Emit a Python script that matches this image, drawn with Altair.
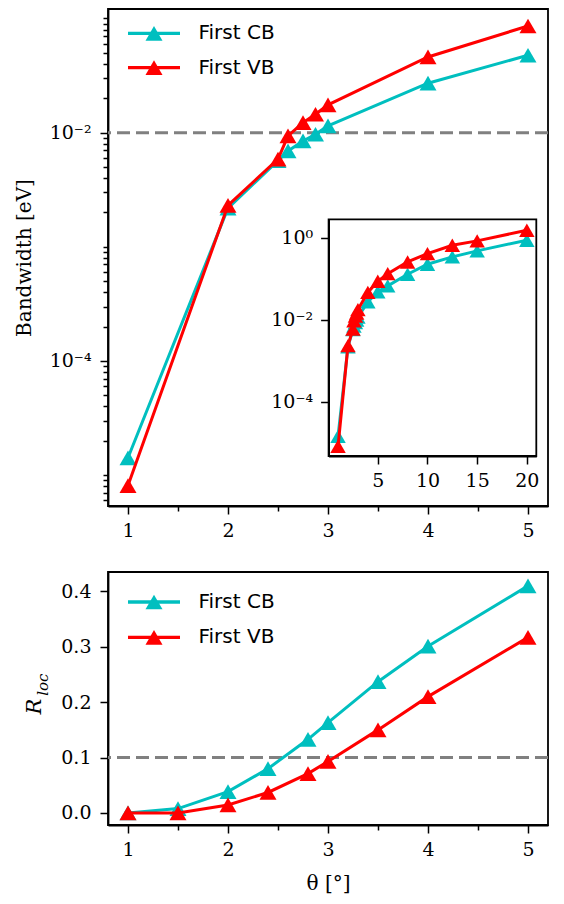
import altair as alt
import pandas as pd

# ---------------- data ----------------
SERIES = ["First CB", "First VB"]
COLORS = ["#00BFBF", "#FF0000"]

# bandwidth vs twist angle (main panel shows theta <= 5, inset shows all)
theta_bw = [1, 2, 2.5, 2.6, 2.75, 2.875, 3, 4, 5, 6, 8, 10, 12.5, 15, 20]
bw_cb = [1.42e-5, 2.18e-3, 5.69e-3, 6.92e-3, 8.45e-3, 9.68e-3, 1.146e-2,
         2.71e-2, 4.76e-2, 0.0664, 0.128, 0.224, 0.339, 0.474, 0.865]
bw_vb = [8.1e-6, 2.31e-3, 5.85e-3, 9.35e-3, 1.225e-2, 1.449e-2, 1.75e-2,
         4.6e-2, 8.59e-2, 0.132, 0.255, 0.407, 0.653, 0.832, 1.51]
main_theta_max = 5

# localisation ratio
theta_r = [1, 1.5, 2, 2.4, 2.8, 3, 3.5, 4, 5]
r_cb = [0.0, 0.008, 0.0385, 0.080, 0.133, 0.163, 0.237, 0.301, 0.410]
r_vb = [0.0, 0.0, 0.0145, 0.037, 0.071, 0.093, 0.150, 0.210, 0.317]

bw_threshold = 0.01
r_threshold = 0.1

x_major = [1, 2, 3, 4, 5]
x_minor = [1.5, 2.5, 3.5, 4.5]
bw_major = [1e-4, 1e-2]
inset_x_ticks = [5, 10, 15, 20]
inset_y_ticks = [1e-4, 1e-2, 1]
r_ticks = [0.0, 0.1, 0.2, 0.3, 0.4]

# ---------------- tables ----------------
bw_df = pd.DataFrame({
    "theta": theta_bw * 2,
    "value": bw_cb + bw_vb,
    "series": [SERIES[0]] * len(theta_bw) + [SERIES[1]] * len(theta_bw),
})
main_df = bw_df[bw_df["theta"] <= main_theta_max]
r_df = pd.DataFrame({
    "theta": theta_r * 2,
    "value": r_cb + r_vb,
    "series": [SERIES[0]] * len(theta_r) + [SERIES[1]] * len(theta_r),
})

# ---------------- scales ----------------
MAIN_Y_DOMAIN = [5.37e-6, 0.121]
INSET_X_DOMAIN = [0.05, 20.95]
INSET_Y_DOMAIN = [4.68e-6, 2.80]


def XM():
    return alt.Scale(domain=[0.8, 5.2], nice=False, zero=False)


def YM():
    return alt.Scale(type="log", domain=MAIN_Y_DOMAIN, nice=False)


def XI():
    return alt.Scale(domain=INSET_X_DOMAIN, nice=False, zero=False, range=[220.6, 428.3])


def YI():
    return alt.Scale(type="log", domain=INSET_Y_DOMAIN, nice=False, range=[447.0, 210.3])


YB = alt.Scale(domain=[-0.0217, 0.435], nice=False, zero=False)

minor_bw = []
for e in range(-6, 0):
    for k in range(1, 10):
        v = k * 10.0 ** e
        if MAIN_Y_DOMAIN[0] <= v <= MAIN_Y_DOMAIN[1] and abs(v - 1e-4) > 1e-12 and abs(v - 1e-2) > 1e-9:
            minor_bw.append(v)

POW_EXPR = ("round(log(datum.value)/LN10) == -2 ? '10⁻²' : "
            "(round(log(datum.value)/LN10) == -4 ? '10⁻⁴' : '10⁰')")

LW = 3
MSIZE = 289
ISIZE = 240


def ax_minor_x():
    return alt.Axis(orient="bottom", values=x_minor, labels=False, tickSize=5,
                    domain=False, title=None, grid=False)


def ax_major_x(title=None):
    return alt.Axis(orient="bottom", values=x_major, format="d", tickSize=8,
                    labelPadding=7, labelFlush=False, title=title, grid=False,
                    titlePadding=14)


def legend_layers(y_positions):
    out = []
    for name, color, yy in zip(SERIES, COLORS, y_positions):
        base = alt.Chart(pd.DataFrame({"label": [name]}))
        out.append(base.mark_rule(color=color, strokeWidth=3.3).encode(
            x=alt.value(20), x2=alt.value(72), y=alt.value(yy)))
        out.append(base.mark_point(shape="triangle-up", filled=True, size=MSIZE,
                                   color=color, opacity=1).encode(
            x=alt.value(46), y=alt.value(yy)))
        out.append(base.mark_text(align="left", baseline="middle", font="DejaVu Sans",
                                  fontSize=20, color="black").encode(
            x=alt.value(90.5), y=alt.value(yy), text="label:N"))
    return out


# ---------------- top panel: main ----------------
cb_main = main_df[main_df["series"] == SERIES[0]]
vb_main = main_df[main_df["series"] == SERIES[1]]

rule_top = alt.Chart(pd.DataFrame({"v": [bw_threshold]})).mark_rule(
    color="#808080", strokeWidth=3, strokeDash=[13, 6]).encode(
    y=alt.Y("v:Q", scale=YM(), axis=None))

line_cb = alt.Chart(cb_main).mark_line(color=COLORS[0], strokeWidth=LW).encode(
    x=alt.X("theta:Q", scale=XM(), axis=ax_minor_x()),
    y=alt.Y("value:Q", scale=YM(), axis=alt.Axis(
        orient="left", values=minor_bw, labels=False, tickSize=5, domain=False,
        title=None, grid=False)))
pts_cb = alt.Chart(cb_main).mark_point(shape="triangle-up", filled=True, size=MSIZE,
                                       color=COLORS[0], opacity=1).encode(
    x=alt.X("theta:Q", scale=XM(), axis=ax_major_x()),
    y=alt.Y("value:Q", scale=YM(), axis=alt.Axis(
        orient="left", values=bw_major, labelExpr=POW_EXPR, tickSize=8,
        labelPadding=9, title="Bandwidth [eV]", titlePadding=14,
        minExtent=60, maxExtent=60, grid=False)))
line_vb = alt.Chart(vb_main).mark_line(color=COLORS[1], strokeWidth=LW).encode(
    x=alt.X("theta:Q", scale=XM(), axis=None),
    y=alt.Y("value:Q", scale=YM(), axis=None))
pts_vb = alt.Chart(vb_main).mark_point(shape="triangle-up", filled=True, size=MSIZE,
                                       color=COLORS[1], opacity=1).encode(
    x=alt.X("theta:Q", scale=XM(), axis=None),
    y=alt.Y("value:Q", scale=YM(), axis=None))

# ---------------- top panel: inset ----------------
cb_all = bw_df[bw_df["series"] == SERIES[0]]
vb_all = bw_df[bw_df["series"] == SERIES[1]]

frame = alt.Chart(pd.DataFrame({
    "x0": [INSET_X_DOMAIN[0]], "x1": [INSET_X_DOMAIN[1]],
    "y0": [INSET_Y_DOMAIN[0]], "y1": [INSET_Y_DOMAIN[1]]})).mark_rect(
    fill="white", stroke="black", strokeWidth=1.8).encode(
    x=alt.X("x0:Q", scale=XI(), axis=alt.Axis(
        orient="bottom", offset=-50, values=inset_x_ticks, format="d", tickSize=8,
        labelPadding=7, labelFlush=False, title=None, grid=False, zindex=1)),
    x2="x1:Q",
    y=alt.Y("y0:Q", scale=YI(), axis=alt.Axis(
        orient="left", offset=-220.6, values=inset_y_ticks, labelExpr=POW_EXPR,
        tickSize=8, labelPadding=8, title=None, grid=False, zindex=1)),
    y2="y1:Q")

i_line_cb = alt.Chart(cb_all).mark_line(color=COLORS[0], strokeWidth=LW).encode(
    x=alt.X("theta:Q", scale=XI(), axis=None), y=alt.Y("value:Q", scale=YI(), axis=None))
i_pts_cb = alt.Chart(cb_all).mark_point(shape="triangle-up", filled=True, size=ISIZE,
                                        color=COLORS[0], opacity=1).encode(
    x=alt.X("theta:Q", scale=XI(), axis=None), y=alt.Y("value:Q", scale=YI(), axis=None))
i_line_vb = alt.Chart(vb_all).mark_line(color=COLORS[1], strokeWidth=LW).encode(
    x=alt.X("theta:Q", scale=XI(), axis=None), y=alt.Y("value:Q", scale=YI(), axis=None))
i_pts_vb = alt.Chart(vb_all).mark_point(shape="triangle-up", filled=True, size=ISIZE,
                                        color=COLORS[1], opacity=1).encode(
    x=alt.X("theta:Q", scale=XI(), axis=None), y=alt.Y("value:Q", scale=YI(), axis=None))

# flat layer: every child has its own (identically specified) scales
top = alt.layer(
    rule_top, line_cb, pts_cb, line_vb, pts_vb, *legend_layers([24.3, 58.7]),
    frame, i_line_cb, i_pts_cb, i_line_vb, i_pts_vb,
).resolve_scale(x="independent", y="independent").properties(width=440, height=497)

# ---------------- bottom panel ----------------
cb_r = r_df[r_df["series"] == SERIES[0]]
vb_r = r_df[r_df["series"] == SERIES[1]]

rule_b = alt.Chart(pd.DataFrame({"v": [r_threshold]})).mark_rule(
    color="#808080", strokeWidth=3, strokeDash=[13, 6]).encode(
    y=alt.Y("v:Q", scale=YB, axis=None))
b_line_cb = alt.Chart(cb_r).mark_line(color=COLORS[0], strokeWidth=LW).encode(
    x=alt.X("theta:Q", scale=XM(), axis=ax_minor_x()),
    y=alt.Y("value:Q", scale=YB, axis=None))
b_pts_cb = alt.Chart(cb_r).mark_point(shape="triangle-up", filled=True, size=MSIZE,
                                      color=COLORS[0], opacity=1).encode(
    x=alt.X("theta:Q", scale=XM(), axis=ax_major_x("θ [°]")),
    y=alt.Y("value:Q", scale=YB, axis=alt.Axis(
        orient="left", values=r_ticks, format=".1f", tickSize=8, labelPadding=9,
        title=None, grid=False)))
b_line_vb = alt.Chart(vb_r).mark_line(color=COLORS[1], strokeWidth=LW).encode(
    x=alt.X("theta:Q", scale=XM(), axis=None), y=alt.Y("value:Q", scale=YB, axis=None))
b_pts_vb = alt.Chart(vb_r).mark_point(shape="triangle-up", filled=True, size=MSIZE,
                                      color=COLORS[1], opacity=1).encode(
    x=alt.X("theta:Q", scale=XM(), axis=None), y=alt.Y("value:Q", scale=YB, axis=None))

r_label = alt.Chart(pd.DataFrame({"t": ["R"]})).mark_text(
    font="DejaVu Serif", fontStyle="italic", fontSize=21, angle=270,
    align="center", baseline="middle", color="black").encode(
    x=alt.value(-72.7), y=alt.value(134.6), text="t:N")
loc_label = alt.Chart(pd.DataFrame({"t": ["loc"]})).mark_text(
    font="DejaVu Serif", fontStyle="italic", fontSize=15, angle=270,
    align="center", baseline="middle", color="black").encode(
    x=alt.value(-65), y=alt.value(112.6), text="t:N")

bottom = alt.layer(rule_b, b_line_cb, b_pts_cb, b_line_vb, b_pts_vb,
                   *legend_layers([30.0, 65.3]), r_label, loc_label).resolve_axis(
    x="independent", y="independent").properties(width=440, height=253)

chart = alt.vconcat(top, bottom, spacing=30).properties(
    padding={"left": 5, "top": 0, "right": 5, "bottom": 0}
).configure_axis(
    labelFont="DejaVu Serif", labelFontSize=19, labelColor="black",
    titleFont="DejaVu Serif", titleFontSize=20, titleFontWeight="normal",
    titleColor="black", domainColor="black", tickColor="black",
    domainWidth=1.8, tickWidth=1.5, grid=False,
).configure_view(stroke="black", strokeWidth=1.8)

chart.save("out.html", embed_options={"renderer": "svg", "actions": False})
